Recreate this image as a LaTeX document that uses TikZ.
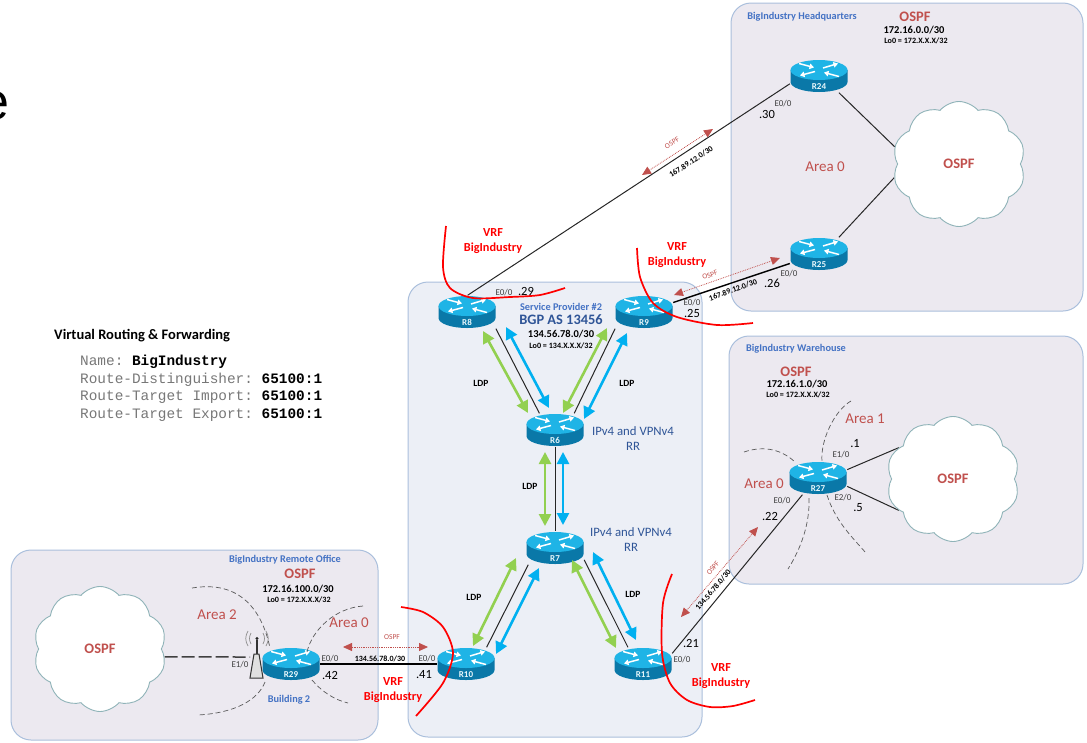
\documentclass[tikz,border=0pt]{standalone}
\usepackage{fontspec}
\setmainfont{Carlito}
\setmonofont{Liberation Mono}
\newfontfamily\bigfont{Liberation Sans}
\usetikzlibrary{arrows.meta,backgrounds,shapes.symbols}
\definecolor{panelback}{HTML}{ECE9F0}
\definecolor{spback}{HTML}{ECEFF6}
\definecolor{panelline}{HTML}{AABFDC}
\definecolor{cloudline}{HTML}{8FB3B8}
\definecolor{ospfred}{HTML}{C0504D}
\definecolor{sitecolor}{HTML}{4472C4}
\definecolor{spcolor}{HTML}{2F5597}
\definecolor{ldpgreen}{HTML}{92D050}
\definecolor{ldpblue}{HTML}{00B0F0}
\definecolor{routertop}{HTML}{1FB4E6}
\definecolor{routerside}{HTML}{0A78A8}
\definecolor{codegray}{HTML}{777777}
\newcommand{\routerglyph}[2]{%
	\begin{scope}[shift={(#1,#2)},x=1pt,y=1pt]
		\fill[routerside] (-28.5,6) -- (-28.5,-6) arc[start angle=180,end angle=360,x radius=28.5,y radius=10] -- (28.5,6) -- cycle;
		\fill[routertop] (0,6) ellipse [x radius=28.5,y radius=10];
		\draw[white,line width=1.5pt,-{Triangle[length=4.5pt,width=5.5pt]}] (-20,12.5) -- (-5,8.5);
		\draw[white,line width=1.5pt,-{Triangle[length=4.5pt,width=5.5pt]}] (4,8) -- (19,12.5);
		\draw[white,line width=1.5pt,-{Triangle[length=4.5pt,width=5.5pt]}] (-4,4.5) -- (-19,0.5);
		\draw[white,line width=1.5pt,-{Triangle[length=4.5pt,width=5.5pt]}] (20,-0.5) -- (5,3.5);
	\end{scope}}
\tikzset{
	panelbox/.style={draw=panelline,line width=1pt,fill=panelback,rounded corners=20pt},
	routerbox/.style={rectangle,inner sep=0pt,minimum width=58pt,minimum height=33pt,text height=26pt,text depth=0pt,
		text=white!90!routertop,font=\bfseries\fontsize{9}{9}\selectfont},
	cloudbox/.style={cloud,cloud puffs=10,cloud puff arc=100,cloud ignores aspect,draw=cloudline,line width=.9pt,fill=white,
		minimum width=133pt,minimum height=125pt,inner sep=0pt,text=ospfred,font=\bfseries\fontsize{14.5}{14.5}\selectfont},
	link/.style={draw=black!85,line width=1pt},
	heavylink/.style={draw=black,line width=1.4pt},
	ldpgreenline/.style={draw=ldpgreen,line width=2.6pt,arrows={Triangle[length=12pt,width=12pt]-Triangle[length=12pt,width=12pt]}},
	ldpblueline/.style={draw=ldpblue,line width=2.6pt,arrows={Triangle[length=12pt,width=12pt]-Triangle[length=12pt,width=12pt]}},
	ospfarrow/.style={draw=ospfred,line width=.8pt,densely dotted,arrows={Triangle[length=9pt,width=8pt]-Triangle[length=9pt,width=8pt]}},
	arealine/.style={draw=black!65,line width=.7pt,dash pattern=on 5pt off 3pt},
	vrfline/.style={draw=red,line width=1.7pt},
	vrftext/.style={text=red,align=center,inner sep=0pt,font=\bfseries\fontsize{12.3}{14.5}\selectfont},
	porttext/.style={inner sep=0pt,text=black!75,font=\fontsize{9}{9}\selectfont},
	hosttext/.style={inner sep=0pt,font=\fontsize{12.5}{12.5}\selectfont},
	subnettext/.style={inner sep=0pt,font=\bfseries\fontsize{8}{8}\selectfont},
	ospftitle/.style={inner sep=0pt,text=ospfred,font=\bfseries\fontsize{14.5}{14.5}\selectfont},
	sitetitle/.style={inner sep=0pt,text=sitecolor,font=\bfseries\fontsize{10.3}{10.3}\selectfont},
	nettext/.style={inner sep=0pt,font=\bfseries\fontsize{10.5}{10.5}\selectfont},
	lootext/.style={inner sep=0pt,font=\bfseries\fontsize{8.1}{8.1}\selectfont},
	areatext/.style={inner sep=0pt,text=ospfred,font=\fontsize{15}{15}\selectfont},
	ldptext/.style={inner sep=0pt,font=\bfseries\fontsize{9.5}{9.5}\selectfont},
	rrtext/.style={inner sep=0pt,align=center,text=spcolor,font=\fontsize{12.8}{15}\selectfont},
	smallospf/.style={inner sep=0pt,text=ospfred,font=\fontsize{7.5}{7.5}\selectfont},
	codetext/.style={inner sep=0pt,anchor=west,text=codegray,font=\ttfamily\fontsize{14.4}{14.4}\selectfont}
}
\begin{document}
\begin{tikzpicture}[x=1pt,y=-1pt]
	\useasboundingbox (0,0) rectangle (1087,742);
	\foreach \name/\x/\y in {R8/467/312,R9/644/312,R6/555/430,R7/555/548,R10/466/664,R11/643/664,R29/291/664,R24/819/76,R25/819/254,R27/818/478}{
		\routerglyph{\x}{\y}
		\node[routerbox] (\name) at (\x,\y) {\name};
	}
	\node[cloudbox] (cloudHQ) at (959,164) {OSPF};
	\node[cloudbox] (cloudWH) at (953,479) {OSPF};
	\node[cloudbox] (cloudRO) at (100,649) {OSPF};
	\coordinate (antenna) at (250,657);

	\begin{pgfonlayer}{background}
		\draw[panelbox] (731,3) rectangle (1083,311);
		\draw[panelbox] (729,336) rectangle (1083,584);
		\draw[panelbox] (11,550) rectangle (378,740);
		\draw[panelbox,fill=spback] (408,282) rectangle (702,737);

		\draw[link] (R8.-30) -- (R6.133);
		\draw[link] (R9.210) -- (R6.41);
		\draw[link] (R6) -- (R7);
		\draw[link] (R7.212) -- (R10.39);
		\draw[link] (R7.-22) -- (R11.132);
		\draw[link] (R8.88) -- (R24.195);
		\draw[heavylink] (R9.18) -- (R25.198);
		\draw[link] (R11.20) -- (R27.227);
		\draw[heavylink] (R29.east) -- (R10.west);
		\draw[link] (R24.-40) -- (cloudHQ.165);
		\draw[link] (R25.40) -- (cloudHQ.192);
		\draw[link] (R27.16) -- (cloudWH.150);
		\draw[link] (R27.-16) -- (cloudWH.210);
		\draw[draw=black!75,line width=1.5pt,dash pattern=on 13pt off 4pt] (cloudRO.-7) -- (antenna);
	\end{pgfonlayer}

	\draw[ldpgreenline] ([shift={(16,19)}]R8.center) -- ([shift={(-27,-17)}]R6.center);
	\draw[ldpblueline] ([shift={(39,15)}]R8.center) -- ([shift={(-6,-22)}]R6.center);
	\draw[ldpgreenline] ([shift={(-37,16)}]R9.center) -- ([shift={(8,-17)}]R6.center);
	\draw[ldpblueline] ([shift={(-17,21)}]R9.center) -- ([shift={(29,-11)}]R6.center);
	\draw[ldpgreenline] ([shift={(-10,22)}]R6.center) -- ([shift={(-10,-22)}]R7.center);
	\draw[ldpblueline] ([shift={(8,22)}]R6.center) -- ([shift={(8,-23)}]R7.center);
	\draw[ldpgreenline] ([shift={(-39,10)}]R7.center) -- ([shift={(7,-18)}]R10.center);
	\draw[ldpblueline] ([shift={(-16,20)}]R7.center) -- ([shift={(30,-10)}]R10.center);
	\draw[ldpgreenline] ([shift={(17,12)}]R7.center) -- ([shift={(-27,-16)}]R11.center);
	\draw[ldpblueline] ([shift={(38,4)}]R7.center) -- ([shift={(-7,-24)}]R11.center);

	\coordinate (ospfAa) at (642,175); \coordinate (ospfAb) at (713,129);
	\coordinate (ospfBa) at (674,295); \coordinate (ospfBb) at (780,258);
	\coordinate (ospfCa) at (681,617); \coordinate (ospfCb) at (758,527);
	\coordinate (ospfDa) at (343,647); \coordinate (ospfDb) at (428,647);
	\draw[ospfarrow] (ospfAa) -- (ospfAb);
	\draw[ospfarrow] (ospfBa) -- (ospfBb);
	\draw[ospfarrow] (ospfCa) -- (ospfCb);
	\draw[ospfarrow] (ospfDa) -- (ospfDb);
	\node[smallospf,rotate=33] (ospfAtext) at (672,143) {OSPF};
	\node[smallospf,rotate=20] (ospfBtext) at (710,275) {OSPF};
	\node[smallospf,rotate=50] (ospfCtext) at (713,568) {OSPF};
	\node[smallospf] (ospfDtext) at (392,637) {OSPF};

	\node[subnettext,rotate=33] (netA) at (691,162) {167.89.12.0/30};
	\node[subnettext,rotate=20] (netB) at (733,290) {167.89.12.0/30};
	\node[subnettext,rotate=50] (netC) at (713,590) {134.56.78.0/30};
	\node[subnettext] (netD) at (380,659) {134.56.78.0/30};

	\draw[arealine] (192,588) .. controls (240,580) and (262,610) .. (270,648);
	\draw[arealine] (265,682) .. controls (258,700) and (235,713) .. (198,715);
	\draw[arealine] (363,606) .. controls (335,608) and (312,630) .. (307,652);
	\draw[arealine] (312,680) .. controls (322,692) and (335,700) .. (348,703);
	\draw[arealine] (744,452) .. controls (765,445) and (782,450) .. (795,462);
	\draw[arealine] (851,401) .. controls (835,410) and (820,440) .. (822,462);
	\draw[arealine] (809,498) .. controls (810,525) and (800,550) .. (788,569);
	\draw[arealine] (827,495) .. controls (835,520) and (850,535) .. (866,553);

	\fill[white!88!black,draw=black!80,line width=1pt] (250,678) -- (254,654) -- (259,654) -- (263,678) -- cycle;
	\draw[black!80,line width=1.2pt] (257,654) -- (257,640);
	\fill[black!85] (257,638.5) circle (1.7);
	\draw[black!45,line width=.7pt] (251,633) .. controls (249,637) and (249,640) .. (251,644);
	\draw[black!45,line width=.7pt] (248,631) .. controls (245,636) and (245,641) .. (248,646);
	\draw[black!45,line width=.7pt] (263,633) .. controls (265,637) and (265,640) .. (263,644);
	\draw[black!45,line width=.7pt] (266,631) .. controls (269,636) and (269,641) .. (266,646);

	\draw[vrfline] plot[smooth] coordinates {(446,226) (443,267) (450,288) (473,298) (510,297) (540,295) (565,288)};
	\draw[vrfline] plot[smooth] coordinates {(637,248) (640,277) (653,303) (677,317) (717,325) (753,323)};
	\draw[vrfline] plot[smooth] coordinates {(672,574) (663,603) (662,653) (670,683) (687,700) (710,707) (733,706) (755,700)};
	\draw[vrfline] plot[smooth] coordinates {(401,607) (423,612) (443,627) (453,653) (443,683) (416,716)};
	\node[vrftext] (vrfA) at (493,241) {VRF\\BigIndustry};
	\node[vrftext] (vrfB) at (677,255) {VRF\\BigIndustry};
	\node[vrftext] (vrfC) at (721,676) {VRF\\BigIndustry};
	\node[vrftext] (vrfD) at (393,690) {VRF\\BigIndustry};

	\node[sitetitle] (titleHQ) at (802,17) {BigIndustry Headquarters};
	\node[ospftitle] (ospfHQ) at (915,17) {OSPF};
	\node[nettext] (netHQ) at (914,30) {172.16.0.0/30};
	\node[lootext] (loHQ) at (916,41) {Lo0 = 172.X.X.X/32};
	\node[areatext] (areaHQ) at (825,167) {Area 0};

	\node[sitetitle] (titleWH) at (796,349) {BigIndustry Warehouse};
	\node[ospftitle] (ospfWH) at (796,372) {OSPF};
	\node[nettext] (netWH) at (797,384) {172.16.1.0/30};
	\node[lootext] (loWH) at (798,395) {Lo0 = 172.X.X.X/32};
	\node[areatext] (areaWHa) at (865,419) {Area 1};
	\node[areatext] (areaWHb) at (764,484) {Area 0};

	\node[sitetitle] (titleRO) at (285,560) {BigIndustry Remote Office};
	\node[ospftitle] (ospfRO) at (300,574) {OSPF};
	\node[nettext] (netRO) at (298,589) {172.16.100.0/30};
	\node[lootext] (loRO) at (299,600) {Lo0 = 172.X.X.X/32};
	\node[areatext] (areaROa) at (217,615) {Area 2};
	\node[areatext] (areaROb) at (349,623) {Area 0};
	\node[sitetitle] (buildingRO) at (289,700) {Building 2};

	\node[sitetitle] (titleSP) at (561,307) {Service Provider \#2};
	\node[inner sep=0pt,text=spcolor,font=\bfseries\fontsize{14.4}{14.4}\selectfont] (bgpSP) at (561,320) {BGP AS 13456};
	\node[nettext] (netSP) at (561,334) {134.56.78.0/30};
	\node[lootext] (loSP) at (561,346) {Lo0 = 134.X.X.X/32};
	\node[rrtext] (rrA) at (633,439) {IPv4 and VPNv4\\RR};
	\node[rrtext] (rrB) at (631,540) {IPv4 and VPNv4\\RR};
	\foreach \name/\x/\y in {ldpA/481/383,ldpB/627/383,ldpC/530/486,ldpD/474/597,ldpE/633/594}
		\node[ldptext] (\name) at (\x,\y) {LDP};

	\foreach \name/\x/\y/\txt in {portA/783/104/E0\slash 0,portB/789/274/E0\slash 0,portC/692/303/E0\slash 0,portD/504/293/E0\slash 0,portE/427/659/E0\slash 0,portF/330/659/E0\slash 0,portG/240/665/E1\slash 0,portH/841/455/E1\slash 0,portI/843/498/E2\slash 0,portJ/782/501/E0\slash 0,portK/682/660/E0\slash 0}
		\node[porttext] (\name) at (\x,\y) {\txt};
	\foreach \name/\x/\y/\txt in {hostA/767/114/.30,hostB/772/283/.26,hostC/692/313/.25,hostD/526/291/.29,hostE/424/675/.41,hostF/330/675/.42,hostG/855/444/.1,hostH/858/508/.5,hostI/770/516/.22,hostJ/691/643/.21}
		\node[hosttext] (\name) at (\x,\y) {\txt};

	\node[inner sep=0pt,anchor=west,font=\bfseries\fontsize{14.5}{14.5}\selectfont] (vrftitle) at (54,336) {Virtual Routing \& Forwarding};
	\node[codetext] (codeA) at (80,362) {Name: \textcolor{black}{\textbf{BigIndustry}}};
	\node[codetext] (codeB) at (80,380) {Route-Distinguisher: \textcolor{black}{\textbf{65100:1}}};
	\node[codetext] (codeC) at (80,397) {Route-Target Import: \textcolor{black}{\textbf{65100:1}}};
	\node[codetext] (codeD) at (80,415) {Route-Target Export: \textcolor{black}{\textbf{65100:1}}};
	\node[inner sep=0pt,font=\bigfont\fontsize{52}{52}\selectfont] (cutoff) at (-5,106) {e};
\end{tikzpicture}
\end{document}
